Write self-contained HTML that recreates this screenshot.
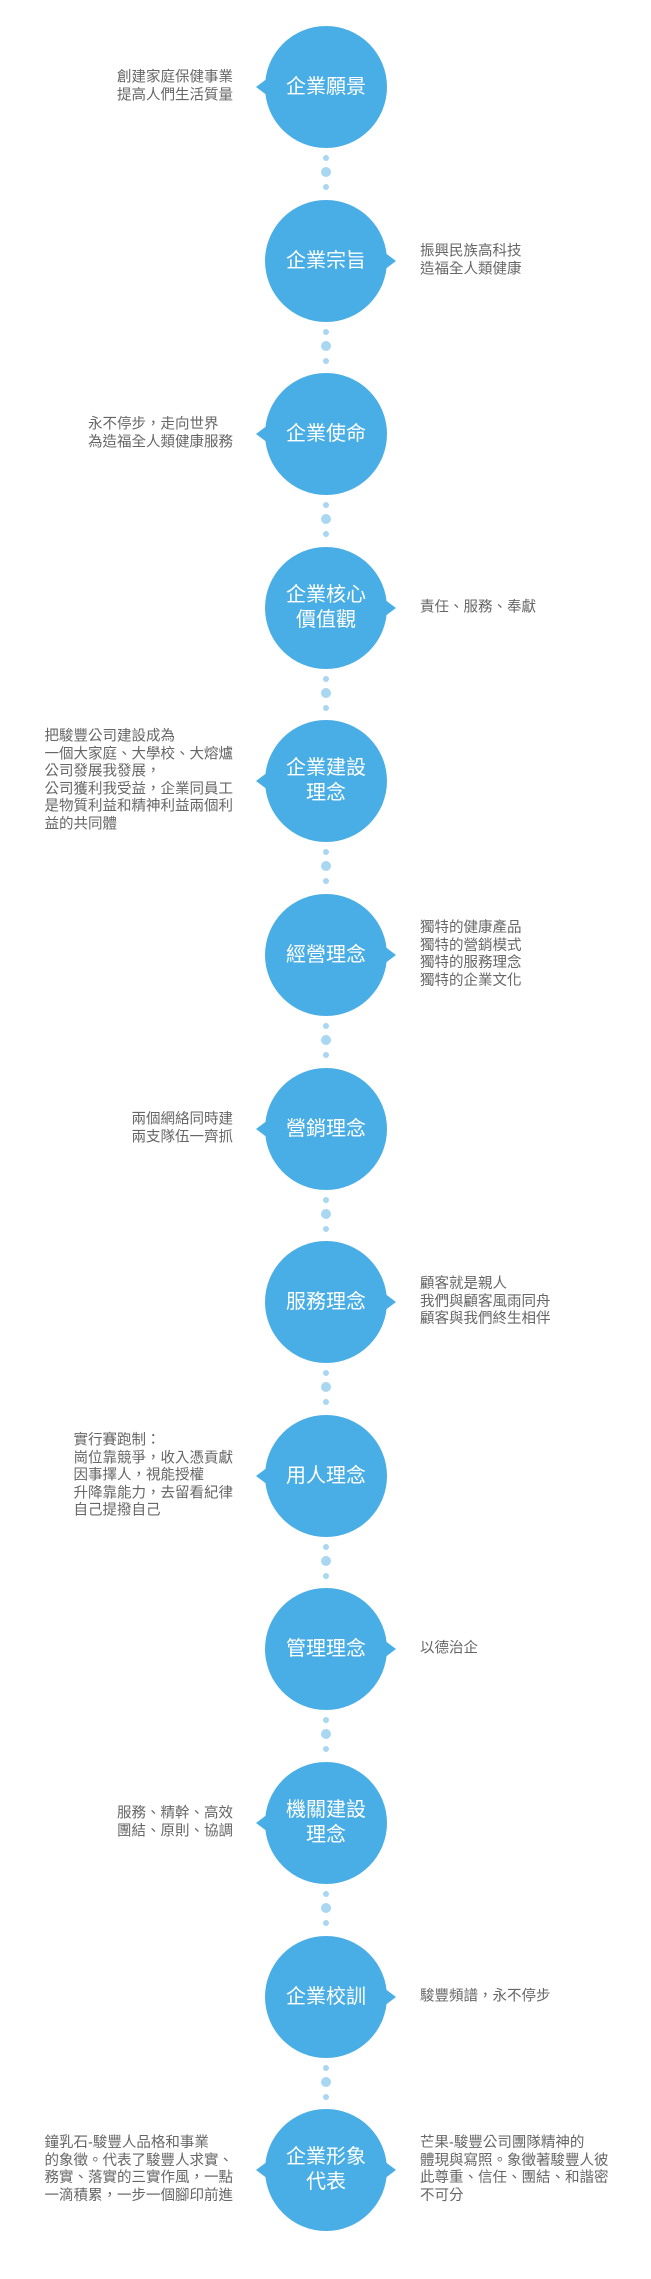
<!DOCTYPE html>
<html><head><meta charset="utf-8"><style>
body{margin:0;width:651px;height:2279px;background:#fff;position:relative;overflow:hidden;font-family:"Liberation Sans","Noto Sans CJK TC",sans-serif}
.r{position:absolute;left:0;width:651px;height:122px}
.c{position:absolute;left:265px;top:0;width:122px;height:122px;border-radius:50%;background:#4aaee6;color:#fff;font-size:20px;line-height:25px;display:flex;align-items:center;justify-content:center;text-align:center}
.pl{position:absolute;left:256px;top:52px;width:0;height:0;border-top:9px solid transparent;border-bottom:9px solid transparent;border-right:12px solid #4aaee6}
.pr{position:absolute;left:384px;top:52px;width:0;height:0;border-top:9px solid transparent;border-bottom:9px solid transparent;border-left:12px solid #4aaee6}
.tl,.tr{position:absolute;top:61px;transform:translateY(-50%);font-size:14.5px;line-height:17.5px;color:#666;white-space:nowrap}
.tl{right:418px}
.tr{left:420px}
.d{position:absolute;border-radius:50%;background:#a9d7f1}
.s{width:6px;height:6px;left:323px}
.b{width:10px;height:10px;left:321px}
</style></head><body>

<div class="r" style="top:26px"><div class="pl"></div><div class="c">企業願景</div><div class="tl">創建家庭保健事業<br>提高人們生活質量</div></div>
<div class="r" style="top:200px"><div class="pr"></div><div class="c">企業宗旨</div><div class="tr">振興民族高科技<br>造福全人類健康</div></div>
<div class="r" style="top:373px"><div class="pl"></div><div class="c">企業使命</div><div class="tl">永不停步，走向世界<br>為造福全人類健康服務</div></div>
<div class="r" style="top:547px"><div class="pr"></div><div class="c">企業核心<br>價值觀</div><div class="tr">責任、服務、奉獻</div></div>
<div class="r" style="top:720px"><div class="pl"></div><div class="c">企業建設<br>理念</div><div class="tl">把駿豐公司建設成為<br>一個大家庭、大學校、大熔爐<br>公司發展我發展，<br>公司獲利我受益，企業同員工<br>是物質利益和精神利益兩個利<br>益的共同體</div></div>
<div class="r" style="top:894px"><div class="pr"></div><div class="c">經營理念</div><div class="tr">獨特的健康產品<br>獨特的營銷模式<br>獨特的服務理念<br>獨特的企業文化</div></div>
<div class="r" style="top:1068px"><div class="pl"></div><div class="c">營銷理念</div><div class="tl">兩個網絡同時建<br>兩支隊伍一齊抓</div></div>
<div class="r" style="top:1241px"><div class="pr"></div><div class="c">服務理念</div><div class="tr">顧客就是親人<br>我們與顧客風雨同舟<br>顧客與我們終生相伴</div></div>
<div class="r" style="top:1415px"><div class="pl"></div><div class="c">用人理念</div><div class="tl">實行賽跑制：<br>崗位靠競爭，收入憑貢獻<br>因事擇人，視能授權<br>升降靠能力，去留看紀律<br>自己提撥自己</div></div>
<div class="r" style="top:1588px"><div class="pr"></div><div class="c">管理理念</div><div class="tr">以德治企</div></div>
<div class="r" style="top:1762px"><div class="pl"></div><div class="c">機關建設<br>理念</div><div class="tl">服務、精幹、高效<br>團結、原則、協調</div></div>
<div class="r" style="top:1936px"><div class="pr"></div><div class="c">企業校訓</div><div class="tr">駿豐頻譜，永不停步</div></div>
<div class="r" style="top:2109px"><div class="pl"></div><div class="pr"></div><div class="c">企業形象<br>代表</div><div class="tl">鐘乳石-駿豐人品格和事業<br>的象徵。代表了駿豐人求實、<br>務實、落實的三實作風，一點<br>一滴積累，一步一個腳印前進</div><div class="tr">芒果-駿豐公司團隊精神的<br>體現與寫照。象徵著駿豐人彼<br>此尊重、信任、團結、和諧密<br>不可分</div></div>

<div class="d s" style="top:155px"></div><div class="d b" style="top:167px"></div><div class="d s" style="top:184px"></div>
<div class="d s" style="top:329px"></div><div class="d b" style="top:341px"></div><div class="d s" style="top:358px"></div>
<div class="d s" style="top:502px"></div><div class="d b" style="top:514px"></div><div class="d s" style="top:531px"></div>
<div class="d s" style="top:676px"></div><div class="d b" style="top:688px"></div><div class="d s" style="top:705px"></div>
<div class="d s" style="top:849px"></div><div class="d b" style="top:861px"></div><div class="d s" style="top:878px"></div>
<div class="d s" style="top:1023px"></div><div class="d b" style="top:1035px"></div><div class="d s" style="top:1052px"></div>
<div class="d s" style="top:1197px"></div><div class="d b" style="top:1209px"></div><div class="d s" style="top:1226px"></div>
<div class="d s" style="top:1370px"></div><div class="d b" style="top:1382px"></div><div class="d s" style="top:1399px"></div>
<div class="d s" style="top:1544px"></div><div class="d b" style="top:1556px"></div><div class="d s" style="top:1573px"></div>
<div class="d s" style="top:1717px"></div><div class="d b" style="top:1729px"></div><div class="d s" style="top:1746px"></div>
<div class="d s" style="top:1891px"></div><div class="d b" style="top:1903px"></div><div class="d s" style="top:1920px"></div>
<div class="d s" style="top:2065px"></div><div class="d b" style="top:2077px"></div><div class="d s" style="top:2094px"></div>
</body></html>
